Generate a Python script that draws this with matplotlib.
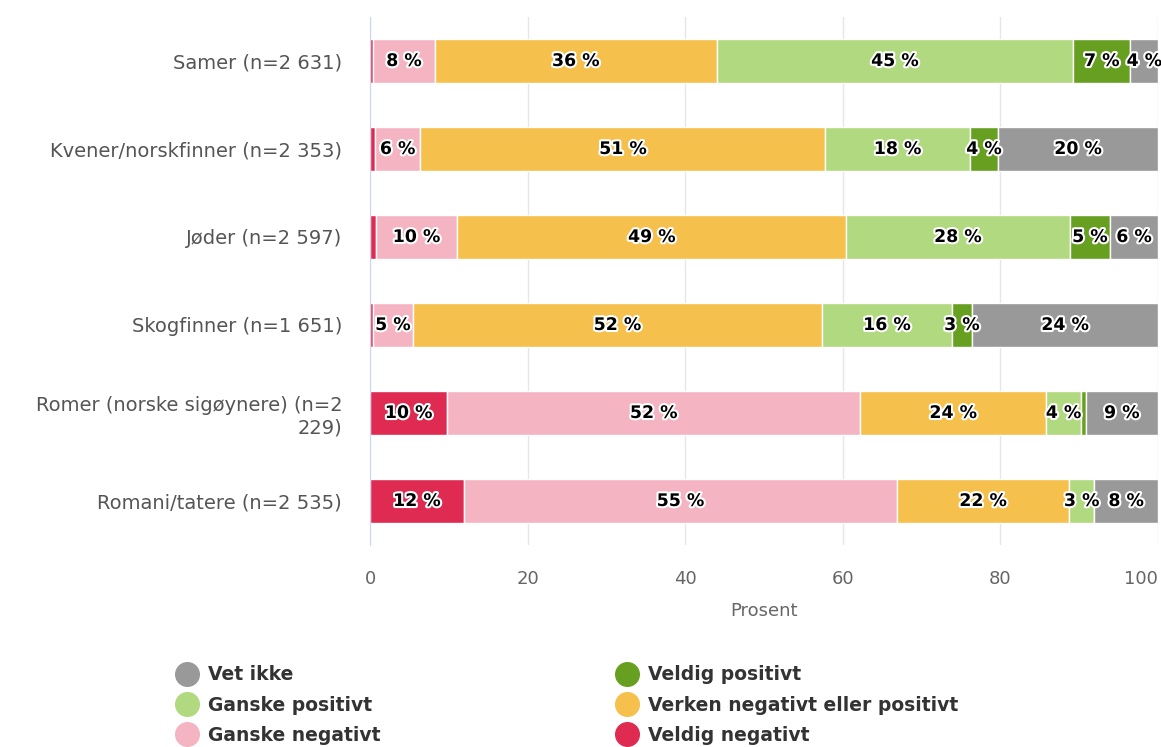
#!/usr/bin/env python3
import matplotlib
matplotlib.use("Agg")
import matplotlib.pyplot as plt
import matplotlib.patheffects as pe
from matplotlib.lines import Line2D
import numpy as np

# Data (percent), bars stacked left to right
CATEGORIES = [
    "Samer (n=2 631)",
    "Kvener/norskfinner (n=2 353)",
    "Jøder (n=2 597)",
    "Skogfinner (n=1 651)",
    "Romer (norske sigøynere) (n=2\n229)",
    "Romani/tatere (n=2 535)",
]
SERIES = [
    "Veldig negativt",
    "Ganske negativt",
    "Verken negativt eller positivt",
    "Ganske positivt",
    "Veldig positivt",
    "Vet ikke",
]
VELDIG_NEG = [0.4, 0.6, 0.7, 0.4, 9.8, 11.9]
GANSKE_NEG = [7.8, 5.8, 10.4, 5.0, 52.4, 55.0]
VERKEN = [35.8, 51.4, 49.3, 52.0, 23.6, 21.8]
GANSKE_POS = [45.2, 18.3, 28.4, 16.4, 4.4, 3.2]
VELDIG_POS = [7.3, 3.6, 5.1, 2.6, 0.6, 0.0]
VET_IKKE = [3.5, 20.3, 6.1, 23.6, 9.2, 8.1]
XTICKS = [0, 20, 40, 60, 80, 100]

COLORS = ["#df2a51", "#f4b4c2", "#f5c04b", "#b1d97f", "#67a021", "#999999"]

values = [VELDIG_NEG, GANSKE_NEG, VERKEN, GANSKE_POS, VELDIG_POS, VET_IKKE]

fig = plt.figure(figsize=(11.61, 7.47), dpi=100)
ax = fig.add_axes([370 / 1161, 1 - 545 / 747, 788 / 1161, 528 / 747])

y = np.arange(len(CATEGORIES))
left = np.zeros(len(CATEGORIES))
outline = [pe.withStroke(linewidth=3, foreground="white")]
for name, vals, color in zip(SERIES, values, COLORS):
    vals = np.array(vals)
    ax.barh(y, vals, left=left, height=0.5, color=color,
            edgecolor="white", linewidth=1, label=name, zorder=3)
    for yi, (l, v) in enumerate(zip(left, vals)):
        if v >= 1.5:
            ax.text(l + v / 2, yi, f"{round(v):d} %", ha="center", va="center",
                    fontsize=12.5, fontweight="bold", color="black",
                    path_effects=outline, zorder=5)
    left += vals

ax.set_xlim(0, 100)
ax.set_ylim(len(CATEGORIES) - 0.5, -0.5)
ax.set_xticks(XTICKS)
ax.set_yticks(y)
ax.set_yticklabels(CATEGORIES, fontsize=14, color="#555555", ha="right")
ax.tick_params(axis="both", length=0)
ax.tick_params(axis="x", labelsize=13, labelcolor="#666666", pad=18)
ax.tick_params(axis="y", pad=20)
ax.get_xticklabels()[-1].set_horizontalalignment("right")
ax.get_xticklabels()[-1].set_x(100.3)
ax.grid(axis="x", color="#e6e6e6", linewidth=1, zorder=0)
for s in ["top", "right", "bottom"]:
    ax.spines[s].set_visible(False)
ax.spines["left"].set_color("#ccd6eb")
ax.spines["left"].set_zorder(4)
ax.set_xlabel("Prosent", fontsize=13, color="#666666", labelpad=10)


def handle(color):
    return Line2D([], [], marker="o", linestyle="", markersize=17,
                  markerfacecolor=color, markeredgecolor=color)


leg_kw = dict(frameon=False, loc="upper left", handletextpad=0.6,
              labelspacing=0.6, prop={"size": 13.5, "weight": "bold"},
              labelcolor="#333333", borderaxespad=0, handlelength=1.0)
col1 = [("Vet ikke", COLORS[5]), ("Ganske positivt", COLORS[3]),
        ("Ganske negativt", COLORS[1])]
col2 = [("Veldig positivt", COLORS[4]),
        ("Verken negativt eller positivt", COLORS[2]),
        ("Veldig negativt", COLORS[0])]
l1 = fig.legend([handle(c) for _, c in col1], [n for n, _ in col1],
                bbox_to_anchor=(170 / 1161, 1 - 658 / 747), **leg_kw)
l2 = fig.legend([handle(c) for _, c in col2], [n for n, _ in col2],
                bbox_to_anchor=(610 / 1161, 1 - 658 / 747), **leg_kw)

fig.savefig("out.png", dpi=100)
